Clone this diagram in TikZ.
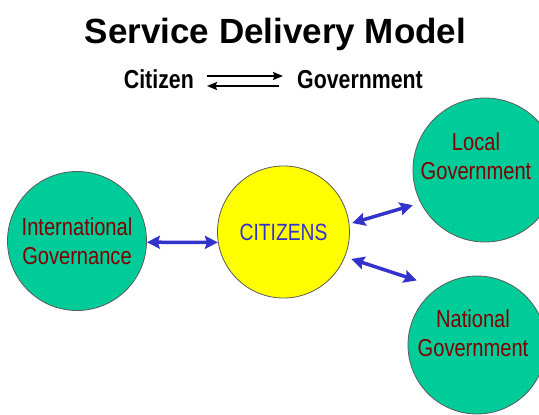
\documentclass[tikz,border=0pt]{standalone}
\usepackage{fontspec}
\setmainfont{Liberation Sans}
\newfontfamily\narrowsans[FakeStretch=0.82]{Liberation Sans}
\usetikzlibrary{positioning,arrows.meta}
\definecolor{sdgreen}{RGB}{0,204,153}
\definecolor{sdyellow}{RGB}{255,255,0}
\definecolor{sdred}{RGB}{128,0,0}
\definecolor{sdblue}{RGB}{51,51,204}
\definecolor{sdrim}{RGB}{90,90,90}

\begin{document}
\begin{tikzpicture}[x=1pt, y=1pt,
  govbox/.style={circle, draw=sdrim, line width=0.8pt, fill=sdgreen, inner sep=0pt},
  govtext/.style={text=sdred, align=center, font=\narrowsans\fontsize{24.5}{29.5}\selectfont},
  twoway/.style={draw=sdblue, line width=3.5pt, {Stealth[length=13pt,width=13pt,inset=2pt]}-{Stealth[length=13pt,width=13pt,inset=2pt]}},
  flow/.style={line width=1.7pt, -{Stealth[length=10pt,width=8pt,inset=1.5pt]}}]
\useasboundingbox (0,0) rectangle (539,415);

% ----------------- Heading -----------------
\node (title) [anchor=base, font=\bfseries\fontsize{35}{40}\selectfont] at (275.5,371) {Service Delivery Model};
\node (citizen) [anchor=base east, inner sep=0pt, font=\narrowsans\bfseries\fontsize{26}{30}\selectfont] at (194,326) {Citizen};
\node (government) [anchor=base west, inner sep=0pt, font=\narrowsans\bfseries\fontsize{26}{30}\selectfont] at (297,326) {Government};

\draw[flow, shorten <=13pt, shorten >=14pt] ([yshift=13pt]citizen.base east) -- ([yshift=13pt]government.base west);
\draw[flow, shorten <=18pt, shorten >=13pt] ([yshift=3pt]government.base west) -- ([yshift=3pt]citizen.base east);

% ----------------- Circles -----------------
\node (intl) [govbox, minimum size=139pt, label={[govtext]center:International\\Governance}] at (77,174) {};

\node (citizens) [circle, draw=sdrim, line width=0.8pt, fill=sdyellow, minimum size=132pt, text=sdblue, font=\narrowsans\fontsize{23.5}{28}\selectfont] at (283.5,183) {CITIZENS};

\node (local) [govbox, minimum size=144pt, label={[govtext, xshift=-9pt, yshift=14pt]center:Local\\Government}] at (485,245) {};

\node (national) [govbox, minimum size=138pt, label={[govtext, xshift=-4pt, yshift=12pt]center:National\\Government}] at (477,70) {};

% ----------------- Arrows -----------------
\draw[twoway] (intl.-1) -- (citizens.189);
\draw[twoway, shorten <=3pt, shorten >=8pt] (citizens.7) -- (local.207);
\draw[twoway, shorten <=6.6pt, shorten >=22.5pt] (citizens.-22) -- (national.124);

\end{tikzpicture}
\end{document}
